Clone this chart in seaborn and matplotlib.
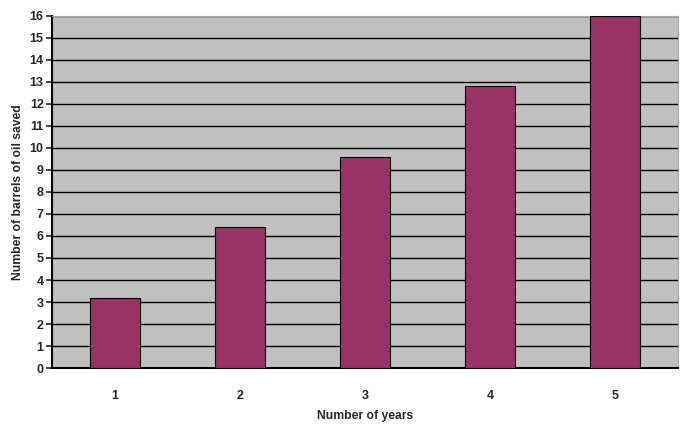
import pandas as pd
import matplotlib
matplotlib.use("Agg")
import matplotlib.pyplot as plt
import seaborn as sns

years = ["1", "2", "3", "4", "5"]
barrels = [3.2, 6.4, 9.6, 12.8, 16.0]
y_ticks = list(range(0, 17))

sns.set_style("white")
plt.rcParams['font.family'] = ['Liberation Sans', 'DejaVu Sans']

df = pd.DataFrame({"year": years, "barrels": barrels})

fig = plt.figure(figsize=(6.9, 4.25), dpi=100)
ax = fig.add_axes([0.0754, 0.1341, 0.9072, 0.8283])
ax.set_facecolor("#C0C0C0")

sns.barplot(data=df, x="year", y="barrels", color="#993366", saturation=1,
            width=0.4, edgecolor="black", linewidth=0.8, ax=ax, zorder=3)

ax.set_ylim(0, 16)
ax.set_yticks(y_ticks)
ax.set_xlim(-0.5, 4.5)
ax.yaxis.grid(True, color="black", linewidth=1.0, zorder=0)
ax.set_axisbelow(True)

for s in ["top", "right"]:
    ax.spines[s].set_color("#A8A8A8")
    ax.spines[s].set_linewidth(0.8)
for s in ["left", "bottom"]:
    ax.spines[s].set_color("black")
    ax.spines[s].set_linewidth(1.5)

ax.tick_params(axis="y", left=True, length=4, width=1.2, pad=2, labelsize=9)
ax.tick_params(axis="x", bottom=False, pad=12, labelsize=9)
for lbl in ax.get_xticklabels() + ax.get_yticklabels():
    lbl.set_fontweight("bold")

ax.set_xlabel("Number of years", fontsize=8.7, fontweight="bold", labelpad=6)
ax.set_ylabel("Number of barrels of oil saved", fontsize=8.7, fontweight="bold", labelpad=4)

fig.savefig("out.png", dpi=100, facecolor="white")
